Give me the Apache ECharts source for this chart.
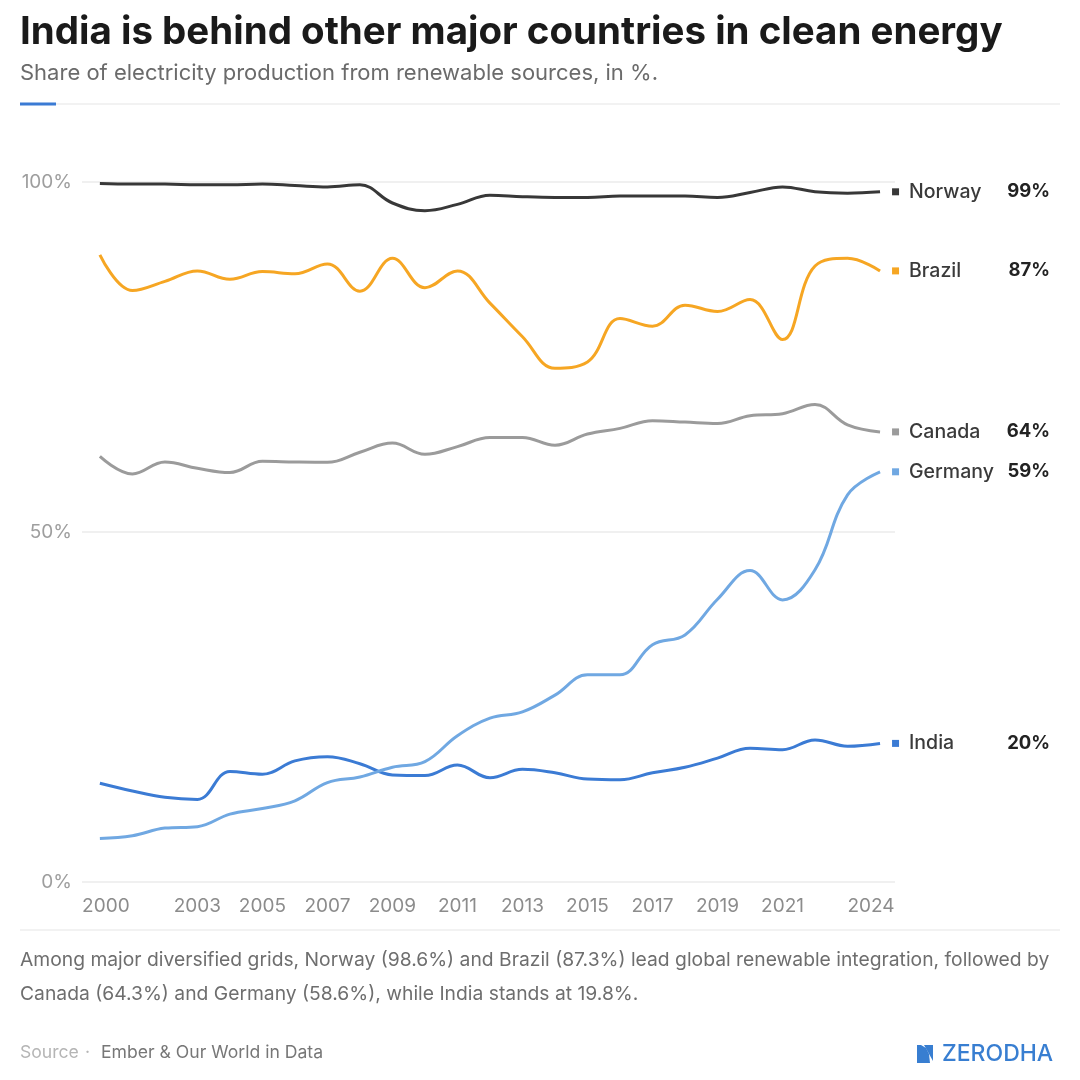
<!DOCTYPE html>
<html>
<head>
<meta charset="utf-8">
<title>Renewable share</title>
<script src="https://cdn.jsdelivr.net/npm/echarts@6/dist/echarts.min.js"></script>
<style>
  html, body { margin: 0; padding: 0; background: #fff; }
  #main { width: 1080px; height: 1080px; }
</style>
</head>
<body>
<div id="main"></div>
<script type="text/javascript">
  var years = [2000, 2001, 2002, 2003, 2004, 2005, 2006, 2007, 2008, 2009, 2010, 2011,
               2012, 2013, 2014, 2015, 2016, 2017, 2018, 2019, 2020, 2021, 2022, 2023, 2024];
  var xTickYears = [2000, 2003, 2005, 2007, 2009, 2011, 2013, 2015, 2017, 2019, 2021, 2024];

  // share of electricity from renewables, %
  var norway  = [99.8, 99.7, 99.7, 99.6, 99.6, 99.7, 99.5, 99.3, 99.6, 97.0, 95.9, 96.8,
                 98.1, 97.9, 97.8, 97.8, 98.0, 98.0, 98.0, 97.8, 98.5, 99.3, 98.6, 98.4, 98.6];
  var brazil  = [89.6, 84.5, 85.8, 87.3, 86.1, 87.2, 86.9, 88.3, 84.4, 89.1, 84.9, 87.3,
                 82.7, 77.9, 73.4, 74.3, 80.5, 79.4, 82.4, 81.5, 83.2, 77.5, 88.0, 89.1, 87.3];
  var canada  = [60.8, 58.3, 60.0, 59.1, 58.5, 60.1, 60.0, 59.95, 61.4, 62.7, 61.1, 62.2,
                 63.5, 63.5, 62.4, 64.0, 64.8, 65.9, 65.7, 65.5, 66.6, 66.9, 68.2, 65.3, 64.3];
  var germany = [6.2, 6.6, 7.7, 7.9, 9.7, 10.5, 11.6, 14.2, 15.0, 16.4, 17.2, 20.9,
                 23.4, 24.3, 26.7, 29.6, 29.6, 33.9, 35.3, 40.4, 44.5, 40.3, 44.6, 55.3, 58.6];
  var india   = [14.1, 13.0, 12.1, 11.8, 15.8, 15.4, 17.3, 17.9, 16.9, 15.3, 15.2, 16.7,
                 14.9, 16.1, 15.6, 14.7, 14.6, 15.6, 16.4, 17.7, 19.1, 18.9, 20.3, 19.4, 19.8];

  var countries = ['Norway', 'Brazil', 'Canada', 'Germany', 'India'];
  var colors = ['#383838', '#f6a623', '#9b9b9b', '#70a8e2', '#3b7bd4'];
  var values = [norway, brazil, canada, germany, india];

  var FONT = 'Inter, "Noto Sans", sans-serif';

  var myChart = echarts.init(document.getElementById('main'));

  var series = [];
  for (var s = 0; s < countries.length; s++) {
    var pts = [];
    for (var i = 0; i < years.length; i++) {
      pts.push([years[i], values[s][i]]);
    }
    series.push({
      name: countries[s],
      type: 'line',
      data: pts,
      smooth: 0.4,
      symbol: 'none',
      lineStyle: { width: 3, color: colors[s] },
      itemStyle: { color: colors[s] },
      z: 10 - s,
      emphasis: { disabled: true },
      endLabel: {
        show: true,
        distance: 12,
        formatter: function (p) {
          return '{sq| }{g| }{n|' + p.seriesName + '}{v|' + Math.round(p.value[1]) + '%}';
        },
        rich: {
          sq: { width: 7, height: 7, fontSize: 7, backgroundColor: colors[s] },
          g: { width: 10, fontSize: 7 },
          n: { width: 91, fontSize: 19.5, fontWeight: 500, color: '#3a3a3a', fontFamily: FONT },
          v: { width: 50, align: 'right', fontSize: 18.5, fontWeight: 700, color: '#222', fontFamily: FONT }
        }
      }
    });
  }

  function txt(x, y, text, font, fill) {
    return { type: 'text', x: x, y: y,
             style: { text: text, font: font, fill: fill, verticalAlign: 'middle' } };
  }

  var option = {
    backgroundColor: '#fff',
    animation: false,
    textStyle: { fontFamily: FONT },
    grid: { left: 82, right: 185, top: 182, bottom: 198 },
    xAxis: {
      type: 'value',
      min: 1999.45,
      max: 2024.46,
      splitLine: { show: false },
      axisLine: { show: false },
      axisTick: { show: false },
      axisLabel: {
        customValues: xTickYears,
        formatter: function (v) {
          if (v === xTickYears[0]) return '{first|' + v + '}';
          if (v === xTickYears[xTickYears.length - 1]) return '{last|' + v + '}';
          return String(v);
        },
        color: '#8c8c8c',
        fontSize: 19,
        margin: 15,
        fontFamily: FONT,
        rich: {
          first: { fontSize: 19, color: '#8c8c8c', fontFamily: FONT, padding: [0, 0, 0, 12] },
          last: { fontSize: 19, color: '#8c8c8c', fontFamily: FONT, padding: [0, 18, 0, 0] }
        }
      }
    },
    yAxis: {
      type: 'value',
      min: 0,
      max: 100,
      interval: 50,
      axisLine: { show: false },
      axisTick: { show: false },
      splitLine: { lineStyle: { color: '#ebebeb', width: 1.5 } },
      axisLabel: {
        formatter: '{value}%',
        color: '#9e9e9e',
        fontSize: 19,
        margin: 10,
        fontFamily: FONT
      }
    },
    series: series,
    graphic: [
      txt(20, 32, 'India is behind other major countries in clean energy', '700 38.5px ' + FONT, '#1a1a1a'),
      txt(20, 73, 'Share of electricity production from renewable sources, in %.', '400 22px ' + FONT, '#6b6b6b'),
      { type: 'rect', shape: { x: 56, y: 103.5, width: 1004, height: 1 }, style: { fill: '#e6e6e6' } },
      { type: 'rect', shape: { x: 20, y: 102.5, width: 36, height: 3 }, style: { fill: '#3b7bd4' } },
      { type: 'rect', shape: { x: 20, y: 929.5, width: 1040, height: 1 }, style: { fill: '#e6e6e6' } },
      txt(20, 960, 'Among major diversified grids, Norway (98.6%) and Brazil (87.3%) lead global renewable integration, followed by',
          '400 19.3px ' + FONT, '#6e6e6e'),
      txt(20, 994, 'Canada (64.3%) and Germany (58.6%), while India stands at 19.8%.', '400 19.3px ' + FONT, '#6e6e6e'),
      txt(20, 1053, 'Source', '400 17.6px ' + FONT, '#b5b5b5'),
      txt(85, 1053, '·', '400 17.6px ' + FONT, '#b5b5b5'),
      txt(101, 1053, 'Ember & Our World in Data', '400 17.6px ' + FONT, '#777'),
      { type: 'polygon', shape: { points: [[917, 1045], [921, 1045], [926, 1048], [929, 1054], [930, 1063], [917, 1063]] },
        style: { fill: '#387ed1' } },
      { type: 'polygon', shape: { points: [[924, 1045], [933, 1045], [933, 1061]] },
        style: { fill: '#387ed1' } },
      txt(942, 1054, 'ZERODHA', '500 23px ' + FONT, '#387ed1')
    ]
  };

  myChart.setOption(option);
</script>
</body>
</html>
